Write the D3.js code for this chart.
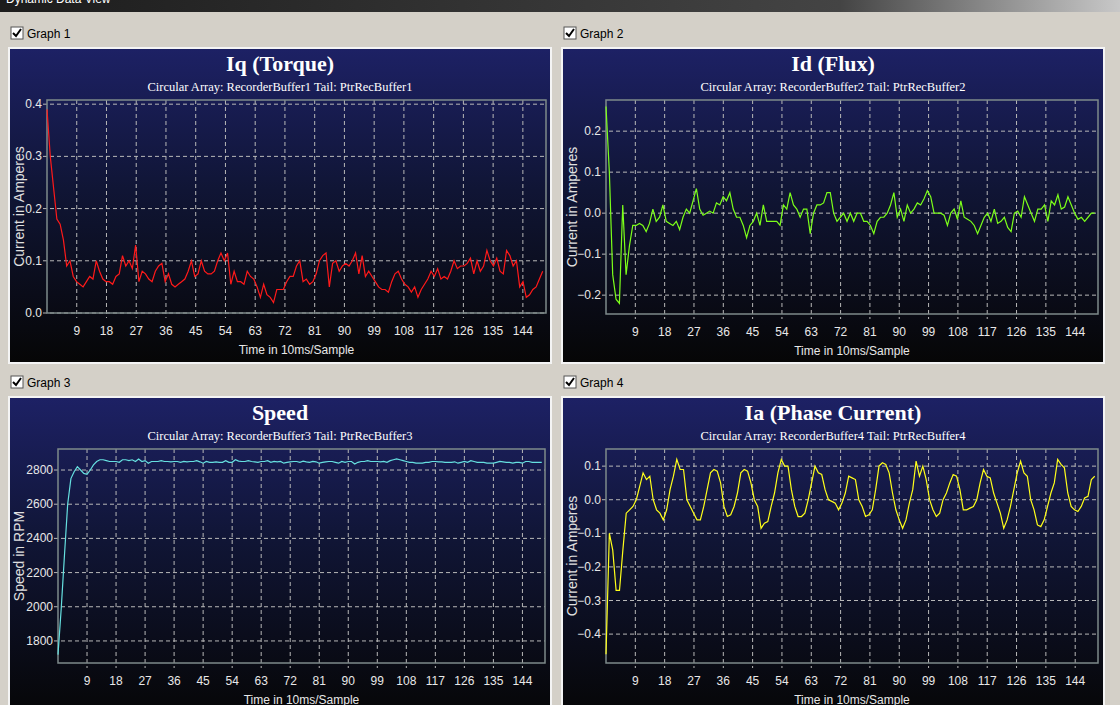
<!DOCTYPE html>
<html>
<head>
<meta charset="utf-8">
<script src="https://cdn.jsdelivr.net/npm/d3@7"></script>
<style>
body { margin: 0; background: #d4d0c8; font-family: "Liberation Sans", sans-serif; }
</style>
</head>
<body>
<svg id="chart" width="1120" height="705"></svg>
<script>
const xTicks = [9, 18, 27, 36, 45, 54, 63, 72, 81, 90, 99, 108, 117, 126, 135, 144];

const iqValues = [0.39,0.3,0.24,0.18,0.17,0.14,0.09,0.1,0.07,0.06,0.055,0.05,0.06,0.07,0.065,0.1,0.08,0.065,0.06,0.06,0.055,0.07,0.075,0.11,0.09,0.1,0.085,0.13,0.06,0.08,0.075,0.065,0.06,0.08,0.09,0.095,0.06,0.075,0.055,0.05,0.055,0.06,0.065,0.08,0.1,0.07,0.075,0.1,0.08,0.075,0.075,0.08,0.1,0.115,0.1,0.115,0.055,0.08,0.06,0.06,0.055,0.08,0.07,0.065,0.05,0.03,0.055,0.035,0.03,0.02,0.045,0.045,0.045,0.06,0.07,0.07,0.09,0.1,0.06,0.065,0.055,0.06,0.075,0.1,0.11,0.115,0.05,0.095,0.1,0.08,0.09,0.095,0.09,0.1,0.115,0.075,0.11,0.07,0.08,0.07,0.06,0.05,0.045,0.045,0.04,0.06,0.075,0.08,0.065,0.055,0.05,0.04,0.05,0.03,0.045,0.055,0.065,0.08,0.07,0.085,0.065,0.07,0.065,0.08,0.1,0.085,0.09,0.09,0.095,0.105,0.075,0.1,0.08,0.09,0.12,0.1,0.09,0.105,0.08,0.075,0.12,0.11,0.09,0.1,0.05,0.06,0.03,0.035,0.045,0.05,0.065,0.08];

const idValues = [0.26,0.1,-0.15,-0.21,-0.22,0.02,-0.15,-0.08,-0.03,-0.03,-0.025,-0.03,-0.045,-0.025,0.01,-0.02,-0.01,0.02,-0.02,-0.025,-0.03,-0.02,-0.04,-0.01,0.01,0.0,0.03,0.06,0.01,-0.005,0.0,0.005,0.0,0.025,0.02,0.04,0.03,0.05,0.01,-0.01,-0.01,-0.03,-0.06,-0.03,-0.02,0.0,-0.03,0.02,-0.02,-0.02,-0.02,-0.02,-0.03,0.02,0.01,0.05,0.02,0.01,-0.01,0.01,0.01,-0.05,0.0,0.02,0.02,0.025,0.05,0.05,0.0,-0.02,-0.01,0.0,-0.02,0.0,-0.02,0.0,0.0,-0.02,-0.02,-0.03,-0.05,-0.02,-0.01,-0.01,0.0,0.02,0.05,-0.01,0.01,-0.02,0.02,0.0,0.01,0.025,0.02,0.035,0.055,0.04,0.0,0.0,0.0,-0.005,-0.03,0.0,0.01,-0.015,0.03,-0.01,-0.015,-0.02,-0.03,-0.05,-0.03,-0.01,0.0,-0.02,0.01,-0.025,-0.02,-0.01,-0.035,-0.045,0.0,0.005,-0.01,0.04,0.02,0.0,-0.02,0.01,0.01,0.02,-0.02,0.03,0.02,0.045,0.01,0.015,0.04,0.02,0.0,-0.015,-0.01,-0.02,-0.01,0.0,0.0];

const speedValues = [1720,1990,2300,2600,2750,2790,2820,2800,2780,2775,2800,2830,2850,2860,2860,2855,2850,2850,2850,2845,2860,2860,2855,2860,2850,2865,2850,2855,2840,2850,2850,2850,2855,2850,2850,2848,2850,2850,2845,2850,2848,2850,2850,2855,2848,2840,2850,2845,2845,2848,2845,2845,2855,2845,2845,2860,2852,2850,2850,2855,2850,2848,2845,2850,2850,2855,2845,2850,2848,2850,2840,2845,2848,2850,2850,2845,2852,2848,2845,2850,2848,2840,2845,2848,2850,2850,2845,2840,2850,2845,2850,2850,2835,2845,2850,2850,2855,2850,2850,2850,2848,2850,2845,2855,2860,2865,2860,2855,2850,2845,2845,2840,2840,2840,2845,2845,2850,2850,2848,2848,2845,2845,2845,2848,2840,2845,2850,2845,2855,2850,2845,2845,2845,2840,2840,2840,2845,2850,2848,2845,2845,2840,2845,2845,2840,2850,2850,2845,2845,2845,2845];

const iaValues = [-0.46,-0.1,-0.15,-0.27,-0.27,-0.15,-0.04,-0.03,-0.02,0.0,0.04,0.08,0.06,0.07,0.0,-0.03,-0.04,-0.06,-0.03,0.03,0.07,0.12,0.09,0.09,0.0,-0.02,-0.04,-0.06,-0.06,-0.02,0.03,0.08,0.09,0.085,0.05,-0.02,-0.05,-0.045,-0.02,0.02,0.08,0.09,0.085,0.05,0.0,-0.02,-0.085,-0.07,-0.065,-0.02,0.02,0.08,0.12,0.1,0.1,0.03,-0.02,-0.05,-0.05,-0.04,0.0,0.05,0.1,0.08,0.075,0.03,0.0,-0.005,-0.01,-0.03,-0.01,0.02,0.07,0.065,0.06,0.0,-0.02,-0.05,-0.045,-0.03,0.03,0.1,0.11,0.105,0.08,0.02,-0.03,-0.06,-0.085,-0.06,-0.01,0.03,0.115,0.07,0.1,0.06,0.0,-0.03,-0.05,-0.04,0.0,0.02,0.05,0.075,0.07,0.03,-0.03,-0.03,-0.025,-0.02,0.0,0.05,0.09,0.07,0.065,0.02,-0.01,-0.04,-0.085,-0.06,-0.02,0.03,0.08,0.115,0.08,0.07,0.0,-0.03,-0.075,-0.08,-0.06,-0.02,0.02,0.05,0.12,0.105,0.095,0.02,-0.02,-0.03,-0.035,-0.02,0.005,0.01,0.06,0.07];

const panels = [
    {graph: "Graph 1", title: "Iq (Torque)", sub: "Circular Array: RecorderBuffer1  Tail: PtrRecBuffer1",
     ylabel: "Current in Amperes", values: iqValues, color: "#ff1a1a",
     box: [9, 48, 542, 315], plot: [47, 100, 546, 313], ydom: [0, 0.408],
     yticks: [0, 0.1, 0.2, 0.3, 0.4], fmt: d3.format(".1f")},
    {graph: "Graph 2", title: "Id (Flux)", sub: "Circular Array: RecorderBuffer2 Tail: PtrRecBuffer2",
     ylabel: "Current in Amperes", values: idValues, color: "#7cff1a",
     box: [562, 48, 542, 315], plot: [606, 100, 1098, 314], ydom: [-0.246, 0.276],
     yticks: [-0.2, -0.1, 0, 0.1, 0.2], fmt: d3.format(".1f")},
    {graph: "Graph 3", title: "Speed", sub: "Circular Array: RecorderBuffer3 Tail: PtrRecBuffer3",
     ylabel: "Speed in RPM", values: speedValues, color: "#66e0e0",
     box: [9, 397, 542, 320], plot: [58, 449, 545, 663], ydom: [1671, 2923],
     yticks: [1800, 2000, 2200, 2400, 2600, 2800], fmt: d3.format("d")},
    {graph: "Graph 4", title: "Ia (Phase Current)", sub: "Circular Array: RecorderBuffer4 Tail: PtrRecBuffer4",
     ylabel: "Current in Amperes", values: iaValues, color: "#ffff1a",
     box: [562, 397, 542, 320], plot: [606, 449, 1098, 663], ydom: [-0.486, 0.151],
     yticks: [-0.4, -0.3, -0.2, -0.1, 0, 0.1], fmt: d3.format(".1f")}
];

const svg = d3.select("#chart");
const defs = svg.append("defs");

// window title bar
const tb = defs.append("linearGradient").attr("id", "titlebar");
tb.append("stop").attr("offset", "0%").attr("stop-color", "#1c1c1c");
tb.append("stop").attr("offset", "75%").attr("stop-color", "#444");
tb.append("stop").attr("offset", "100%").attr("stop-color", "#c8c8c8");
svg.append("rect").attr("width", 1120).attr("height", 12).attr("fill", "url(#titlebar)");
svg.append("text").attr("x", 6).attr("y", 3).attr("fill", "#fff")
    .style("font-size", "12px").text("Dynamic Data View");

const bg = defs.append("linearGradient").attr("id", "panelbg")
    .attr("x1", 0).attr("y1", 0).attr("x2", 0).attr("y2", 1);
bg.append("stop").attr("offset", "0%").attr("stop-color", "#1d2165");
bg.append("stop").attr("offset", "45%").attr("stop-color", "#101535");
bg.append("stop").attr("offset", "100%").attr("stop-color", "#060606");

function draw_panel(p) {
    const [bx, by, bw, bh] = p.box;
    const [x0, y0, x1, y1] = p.plot;
    const g = svg.append("g");

    // checkbox + label
    const cy = by - 14;
    g.append("rect").attr("x", bx + 2).attr("y", cy - 7).attr("width", 12).attr("height", 12)
        .attr("fill", "#fff").attr("stroke", "#555");
    g.append("path").attr("d", `M${bx + 4},${cy - 1} l3,3 l5,-7`)
        .attr("fill", "none").attr("stroke", "#000").attr("stroke-width", 2);
    g.append("text").attr("x", bx + 18).attr("y", cy + 4).style("font-size", "12px")
        .attr("fill", "#000").text(p.graph);

    g.append("rect").attr("x", bx).attr("y", by).attr("width", bw).attr("height", bh)
        .attr("fill", "url(#panelbg)").attr("stroke", "#f4f4f4").attr("stroke-width", 2);

    const cx = bx + bw / 2;
    g.append("text").attr("x", cx).attr("y", by + 23).attr("text-anchor", "middle")
        .attr("fill", "#fff").style("font-family", "Liberation Serif").style("font-weight", "bold")
        .style("font-size", "22px").text(p.title);
    g.append("text").attr("x", cx).attr("y", by + 43).attr("text-anchor", "middle")
        .attr("fill", "#fff").style("font-family", "Liberation Serif")
        .style("font-size", "12.5px").text(p.sub);

    const x = d3.scaleLinear().domain([0, 151]).range([x0, x1]);
    const y = d3.scaleLinear().domain(p.ydom).range([y1, y0]);

    // grid
    g.selectAll(".vg").data(xTicks).join("line")
        .attr("x1", d => x(d)).attr("x2", d => x(d)).attr("y1", y0).attr("y2", y1 + 5)
        .attr("stroke", "#b8b8b8").attr("stroke-dasharray", "4,3");
    g.selectAll(".hg").data(p.yticks).join("line")
        .attr("x1", x0 - 4).attr("x2", x1).attr("y1", d => y(d)).attr("y2", d => y(d))
        .attr("stroke", "#b8b8b8").attr("stroke-dasharray", "4,3");
    g.append("rect").attr("x", x0).attr("y", y0).attr("width", x1 - x0).attr("height", y1 - y0)
        .attr("fill", "none").attr("stroke", "#7e8a8a").attr("stroke-width", 1.5);

    // tick labels
    g.selectAll(".xt").data(xTicks).join("text")
        .attr("x", d => x(d)).attr("y", y1 + 22).attr("text-anchor", "middle")
        .attr("fill", "#e8e8e8").style("font-size", "12px").text(d => d);
    g.selectAll(".yt").data(p.yticks).join("text")
        .attr("x", x0 - 5).attr("y", d => y(d) + 4).attr("text-anchor", "end")
        .attr("fill", "#e8e8e8").style("font-size", "12px").text(p.fmt);

    g.append("text").attr("x", (x0 + x1) / 2).attr("y", y1 + 41).attr("text-anchor", "middle")
        .attr("fill", "#e8e8e8").style("font-size", "12px").text("Time in 10ms/Sample");
    g.append("text")
        .attr("transform", `translate(${bx + 15}, ${(y0 + y1) / 2}) rotate(-90)`)
        .attr("text-anchor", "middle").attr("fill", "#e0e0e0").style("font-size", "14px")
        .text(p.ylabel);

    // data
    const step = 150 / (p.values.length - 1);
    const line = d3.line()
        .x((d, i) => x(i * step))
        .y(d => y(d));
    g.append("path").datum(p.values)
        .attr("d", line).attr("fill", "none")
        .attr("stroke", p.color).attr("stroke-width", 1.2);
}

panels.forEach(draw_panel);
</script>
</body>
</html>
